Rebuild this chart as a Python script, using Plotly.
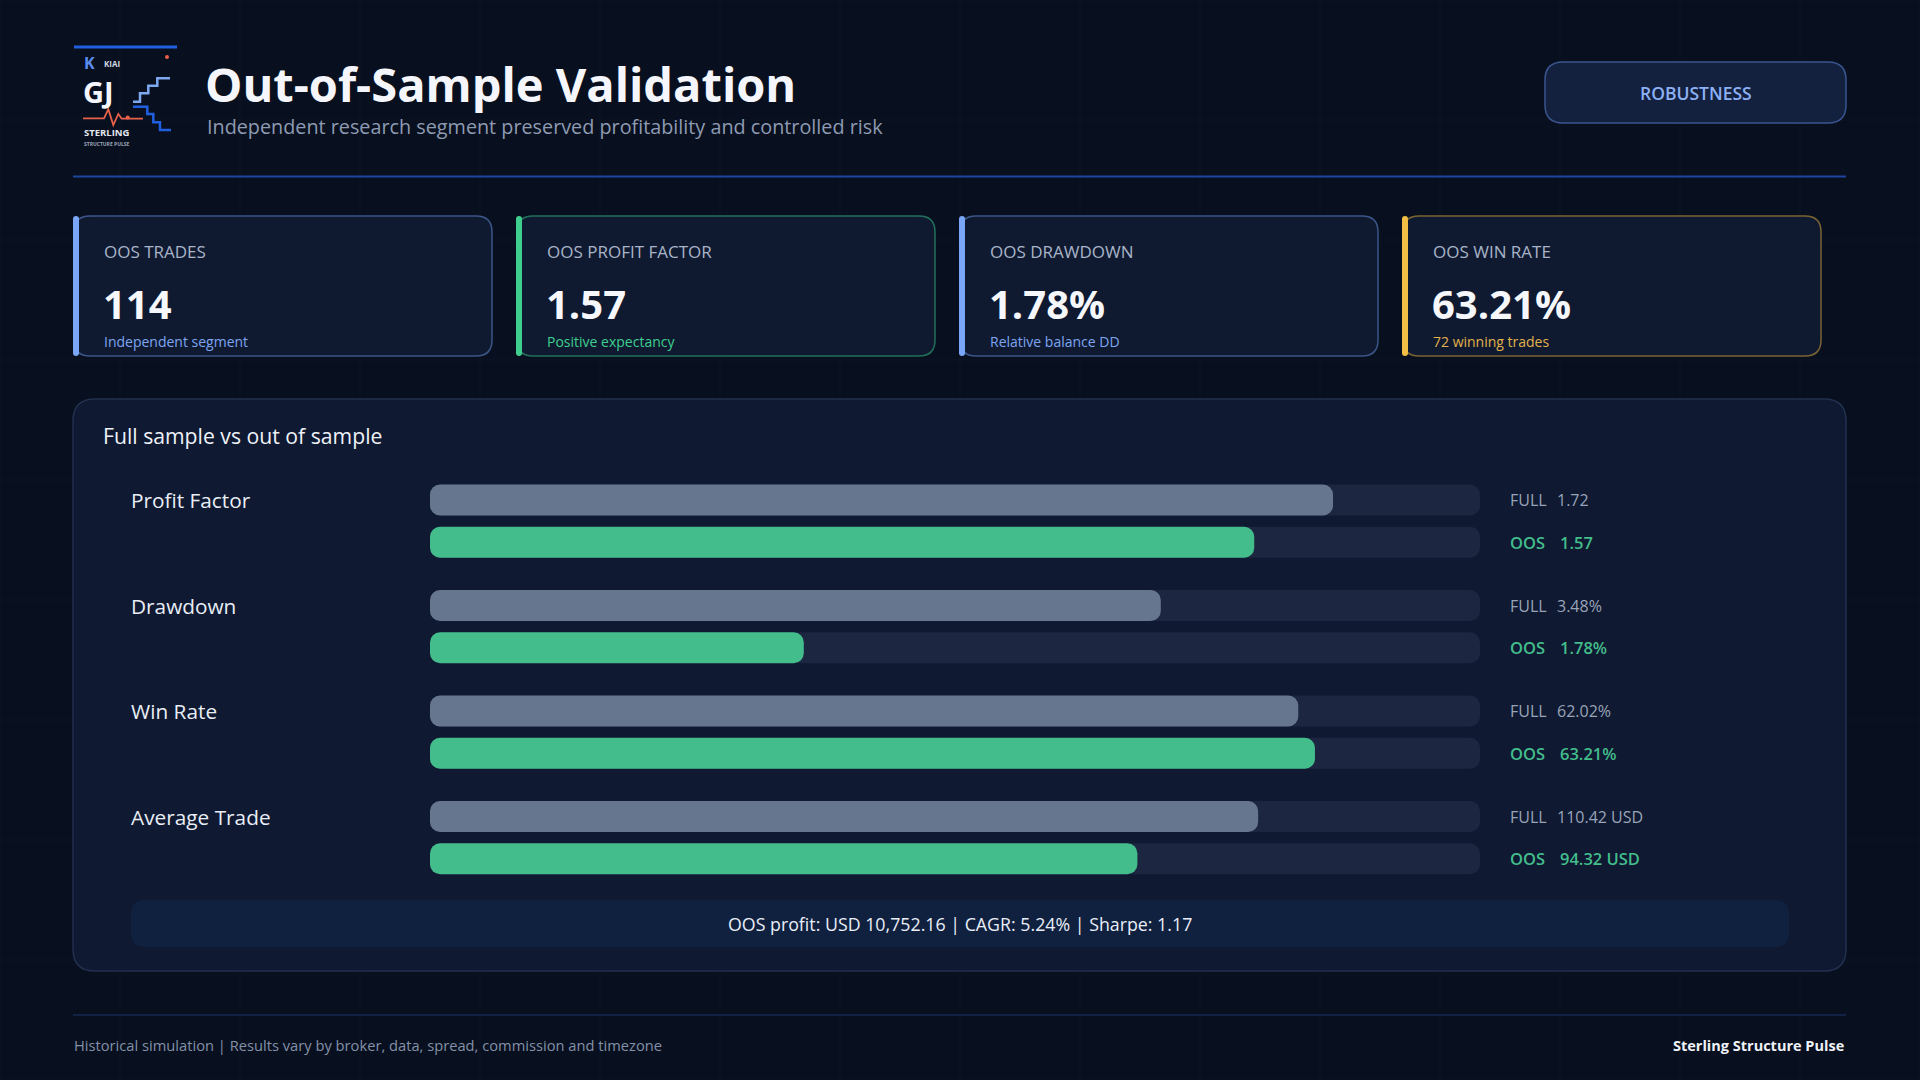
import plotly.graph_objects as go

W, H = 1920, 1080
FONT = "Open Sans"

# ---- data ----
kpi_labels = ["OOS TRADES", "OOS PROFIT FACTOR", "OOS DRAWDOWN", "OOS WIN RATE"]
kpi_values = ["114", "1.57", "1.78%", "63.21%"]
kpi_notes = ["Independent segment", "Positive expectancy", "Relative balance DD", "72 winning trades"]

metrics = ["Profit Factor", "Drawdown", "Win Rate", "Average Trade"]
full_values = [1.72, 3.48, 62.02, 110.42]
oos_values = [1.57, 1.78, 63.21, 94.32]
scale_max = [2.0, 5.0, 75.0, 140.0]
units = ["", "%", "%", " USD"]

oos_profit = 10752.16
oos_cagr = 5.24
oos_sharpe = 1.17

# ---- colours ----
BG = "#080f1e"
PANEL = "#0f1931"
TRACK = "#1c2640"
FULL_C = "#67768f"
OOS_C = "#43bd8c"
accent = ["#7aa6f7", "#3ecf8e", "#7aa6f7", "#f2bf45"]
card_border = ["#3b5688", "#22705a", "#3b5688", "#7a6434"]
note_color = ["#7ea6f0", "#3ecf8e", "#7ea6f0", "#e2b24a"]


def px(x):
    return x / W


def py(y):
    return 1 - y / H


def rrect(x0, y0, x1, y1, r):
    """Rounded rectangle path in paper coords, from pixel box (y down)."""
    rx, ry = r / W, r / H
    a, b = px(x0), px(x1)
    t, u = py(y0), py(y1)
    return (f"M {a+rx},{t} L {b-rx},{t} Q {b},{t} {b},{t-ry} "
            f"L {b},{u+ry} Q {b},{u} {b-rx},{u} L {a+rx},{u} "
            f"Q {a},{u} {a},{u+ry} L {a},{t-ry} Q {a},{t} {a+rx},{t} Z")


def polyline(points):
    return "M " + " L ".join(f"{px(x)},{py(y)}" for x, y in points)


shapes = []
annotations = []


def text(x, y, s, size, color, anchor="left", weight=400, yanchor="middle"):
    annotations.append(dict(
        x=px(x), y=py(y), xref="paper", yref="paper", text=s, showarrow=False,
        xanchor=anchor, yanchor=yanchor,
        font=dict(family=FONT, size=size, color=color, weight=weight)))


# background grid
for gx in range(0, W + 1, 120):
    shapes.append(dict(type="line", xref="paper", yref="paper", x0=px(gx), x1=px(gx),
                       y0=0, y1=1, line=dict(color="rgba(120,150,210,0.05)", width=1),
                       layer="below"))
for gy in range(0, H + 1, 120):
    shapes.append(dict(type="line", xref="paper", yref="paper", x0=0, x1=1,
                       y0=py(gy), y1=py(gy), line=dict(color="rgba(120,150,210,0.05)", width=1),
                       layer="below"))

# ---- logo ----
shapes.append(dict(type="line", xref="paper", yref="paper", x0=px(74), x1=px(177),
                   y0=py(47), y1=py(47), line=dict(color="#1f5fe0", width=3)))
shapes.append(dict(type="path", xref="paper", yref="paper",
                   path=polyline([(133, 101.7), (140, 101.7), (140, 93.3), (148.3, 93.3),
                                  (148.3, 85.7), (157.3, 85.7), (157.3, 78.3), (170, 78.3)]),
                   line=dict(color="#7ea8f0", width=2.5)))
shapes.append(dict(type="path", xref="paper", yref="paper",
                   path=polyline([(133, 106.7), (147.3, 106.7), (147.3, 114), (153.3, 114),
                                  (153.3, 122.3), (160, 122.3), (160, 130), (171, 130)]),
                   line=dict(color="#1f5fe0", width=2.5)))
shapes.append(dict(type="path", xref="paper", yref="paper",
                   path=polyline([(83, 118.3), (104, 118.3), (108.3, 109.3), (113.3, 125),
                                  (118.3, 114), (121.7, 118.7), (143, 118.7)]),
                   line=dict(color="#e9604a", width=1.8)))
for cx, cy in [(167, 57), (127.7, 117.5)]:
    shapes.append(dict(type="circle", xref="paper", yref="paper", x0=px(cx - 2), x1=px(cx + 2),
                       y0=py(cy + 2), y1=py(cy - 2), fillcolor="#e9604a", line=dict(width=0)))
text(82, 63, "K", 16, "#5b8cf0", weight=700)
text(102, 63, "KIAI", 8, "#d0d7e4", weight=700)
text(81, 92, "GJ", 29, "#f4f6fb", weight=700)
text(82, 133, "STERLING", 9.5, "#e3e8f0", weight=700)
text(82, 143.5, "STRUCTURE PULSE", 5, "#9aa6b8", weight=700)

# ---- header ----
text(203, 84, "Out-of-Sample Validation", 47, "#f4f6fb", weight=700)
text(205, 126, "Independent research segment preserved profitability and controlled risk",
     19.8, "#8e9bb3")
shapes.append(dict(type="path", xref="paper", yref="paper", path=rrect(1545, 62, 1846, 123, 18),
                   fillcolor="#13213f", line=dict(color="#3a5690", width=1.5)))
text(1695.5, 93, "ROBUSTNESS", 17.5, "#8db0f5", anchor="center", weight=600)
shapes.append(dict(type="line", xref="paper", yref="paper", x0=px(73), x1=px(1846),
                   y0=py(176.5), y1=py(176.5), line=dict(color="#1c46a0", width=2)))

# ---- KPI cards ----
for i, (lab, val, note) in enumerate(zip(kpi_labels, kpi_values, kpi_notes)):
    x0 = 74 + i * 443
    x1 = x0 + 418
    shapes.append(dict(type="path", xref="paper", yref="paper", path=rrect(x0, 216, x1, 356, 16),
                       fillcolor="#0f1a31", line=dict(color=card_border[i], width=1.5),
                       layer="below"))
    shapes.append(dict(type="path", xref="paper", yref="paper", path=rrect(x0 - 1, 216, x0 + 5, 356, 3),
                       fillcolor=accent[i], line=dict(width=0), layer="below"))
    text(x0 + 28, 251, lab, 17, "#a9b4c8", weight=500)
    text(x0 + 27, 303, val, 40, "#f5f7fb", weight=700)
    text(x0 + 28, 341, note, 14, note_color[i])

# ---- comparison panel ----
shapes.append(dict(type="path", xref="paper", yref="paper", path=rrect(73, 399, 1846, 971, 22),
                   fillcolor=PANEL, line=dict(color="#22314f", width=1.5), layer="below"))
text(101, 436, "Full sample vs out of sample", 21.2, "#eef2f8", weight=500)

ROW0_PX, ROW_STEP_PX, OOS_OFFSET = 500.0, 105.5, 0.4
BAR_W = 31 / ROW_STEP_PX
Y_TOP_PX, Y_BOT_PX = 450.0, 890.0
rows = list(range(len(metrics)))
full_y = rows
oos_y = [r + OOS_OFFSET for r in rows]
full_frac = [v / m for v, m in zip(full_values, scale_max)]
oos_frac = [v / m for v, m in zip(oos_values, scale_max)]

fig = go.Figure()


def add_pill(y, frac, color):
    # an explicit base makes plotly round both ends of the bar
    fig.add_trace(go.Bar(y=y, x=frac, base=[0] * len(frac), orientation="h", width=BAR_W,
                         hoverinfo="skip", showlegend=False,
                         marker=dict(color=color, cornerradius=10, line=dict(width=0))))


add_pill(full_y, [1.0] * len(rows), TRACK)
add_pill(oos_y, [1.0] * len(rows), TRACK)
add_pill(full_y, full_frac, FULL_C)
add_pill(oos_y, oos_frac, OOS_C)

for r, name, fv, ov, u in zip(rows, metrics, full_values, oos_values, units):
    annotations.append(dict(x=px(129), y=r, xref="paper", yref="y", text=name, showarrow=False,
                            xanchor="left", yanchor="middle",
                            font=dict(family=FONT, size=20.8, color="#e9eef6", weight=500)))
    annotations.append(dict(x=px(1508), y=r, xref="paper", yref="y", text="FULL", showarrow=False,
                            xanchor="left", yanchor="middle",
                            font=dict(family=FONT, size=16, color="#98a4b8")))
    annotations.append(dict(x=px(1555), y=r, xref="paper", yref="y", text=f"{fv:.2f}{u}",
                            showarrow=False, xanchor="left", yanchor="middle",
                            font=dict(family=FONT, size=16, color="#98a4b8")))
    annotations.append(dict(x=px(1508), y=r + OOS_OFFSET, xref="paper", yref="y", text="OOS",
                            showarrow=False, xanchor="left", yanchor="middle",
                            font=dict(family=FONT, size=16.5, color=OOS_C, weight=600)))
    annotations.append(dict(x=px(1558), y=r + OOS_OFFSET, xref="paper", yref="y",
                            text=f"{ov:.2f}{u}", showarrow=False, xanchor="left", yanchor="middle",
                            font=dict(family=FONT, size=16.5, color=OOS_C, weight=600)))

# summary strip
shapes.append(dict(type="path", xref="paper", yref="paper", path=rrect(131, 900, 1789, 947, 14),
                   fillcolor="#10203f", line=dict(width=0), layer="below"))
text(960, 924, f"OOS profit: USD {oos_profit:,.2f} | CAGR: {oos_cagr:.2f}% | Sharpe: {oos_sharpe:.2f}",
     17.8, "#e9eef7", anchor="center", weight=500)

# ---- footer ----
shapes.append(dict(type="line", xref="paper", yref="paper", x0=px(73), x1=px(1846),
                   y0=py(1015), y1=py(1015), line=dict(color="#132850", width=1.5)))
text(72, 1045, "Historical simulation | Results vary by broker, data, spread, commission and timezone",
     14.7, "#8391a8")
text(1846, 1045, "Sterling Structure Pulse", 14.5, "#eef2f8", anchor="right", weight=700)

fig.update_layout(
    width=W, height=H,
    margin=dict(l=0, r=0, t=0, b=0),
    paper_bgcolor=BG, plot_bgcolor="rgba(0,0,0,0)",
    barmode="overlay",
    xaxis=dict(domain=[px(430), px(1480)], range=[0, 1], visible=False, fixedrange=True),
    yaxis=dict(domain=[py(Y_BOT_PX), py(Y_TOP_PX)],
               range=[(Y_BOT_PX - ROW0_PX) / ROW_STEP_PX, (Y_TOP_PX - ROW0_PX) / ROW_STEP_PX],
               visible=False, fixedrange=True),
    shapes=shapes,
    annotations=annotations,
    font=dict(family=FONT),
    showlegend=False,
)

# drop the default page margin so the figure fills the window
fig.write_html("out.html", config={"displayModeBar": False},
               post_script="document.body.style.margin='0';"
                           "document.body.style.background='#080f1e';")
